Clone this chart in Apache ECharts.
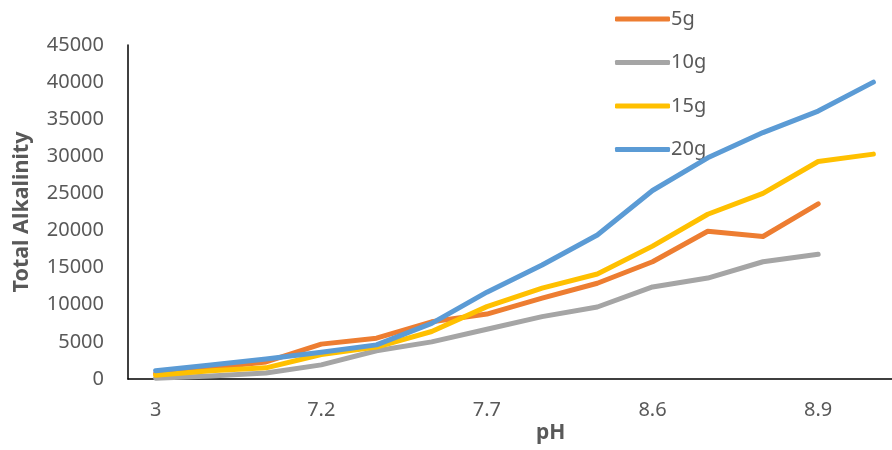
<!DOCTYPE html>
<html>
<head>
<meta charset="utf-8">
<script src="https://cdn.jsdelivr.net/npm/echarts@6/dist/echarts.min.js"></script>
<style>html,body{margin:0;padding:0;background:#fff}#c{width:892px;height:450px}</style>
</head>
<body>
<div id="c"></div>
<script>
const categories = ['3','6.5','7','7.2','7.4','7.5','7.7','8','8.3','8.6','8.7','8.8','8.9','9'];
const s5g  = [700, 1500, 2300, 4700, 5500, 7700, 8750, 10900, 12900, 15800, 19900, 19200, 23600, null];
const s10g = [100, 400, 800, 1900, 3800, 5000, 6700, 8400, 9700, 12400, 13600, 15800, 16800, null];
const s15g = [500, 1100, 1500, 3300, 4300, 6400, 9750, 12250, 14150, 17900, 22200, 25000, 29300, 30300];
const s20g = [1100, 1900, 2700, 3600, 4600, 7500, 11700, 15350, 19400, 25400, 29800, 33200, 36100, 40000];
const yTicks = {min: 0, max: 45000, interval: 5000};
const seriesNames = ['5g', '10g', '15g', '20g'];
const colors = ['#ED7D31', '#A5A5A5', '#FFC000', '#5B9BD5'];

const chart = echarts.init(document.getElementById('c'), null, {renderer: 'canvas'});
const txt = '#595959';
const font = 'Noto Sans';
const datas = [s5g, s10g, s15g, s20g];
chart.setOption({
  animation: false,
  backgroundColor: '#fff',
  grid: {left: 128, width: 773, top: 45, height: 334, containLabel: false, outerBoundsMode: 'none'},
  legend: {
    orient: 'vertical', left: 610, top: 4,
    itemWidth: 55, itemHeight: 5, itemGap: 23.5,
    icon: 'roundRect',
    textStyle: {color: txt, fontSize: 20, fontFamily: font, padding: [0, 0, 0, -4]},
    data: seriesNames
  },
  xAxis: {
    type: 'category', data: categories, boundaryGap: true,
    axisLine: {lineStyle: {color: '#000', width: 1.5}},
    axisTick: {show: false},
    axisLabel: {interval: 2, color: txt, fontSize: 20, fontFamily: font, margin: 21}
  },
  yAxis: {
    type: 'value', min: yTicks.min, max: yTicks.max, interval: yTicks.interval,
    name: 'Total Alkalinity', nameLocation: 'middle', nameGap: 95,
    nameTextStyle: {color: txt, fontSize: 21.5, fontWeight: 'bold', fontFamily: font},
    axisLine: {show: true, lineStyle: {color: '#000', width: 1.5}},
    axisTick: {show: false},
    splitLine: {show: false},
    axisLabel: {color: txt, fontSize: 20, fontFamily: font, margin: 24, formatter: v => String(v)}
  },
  graphic: [{
    type: 'text', left: 536, top: 423,
    style: {text: 'pH', fill: txt, font: 'bold 21px "Noto Sans"'}
  }],
  series: datas.map((d, i) => ({
    name: seriesNames[i], type: 'line', data: d,
    symbol: 'none', smooth: false, connectNulls: false,
    itemStyle: {color: colors[i]},
    lineStyle: {color: colors[i], width: 5, cap: 'round', join: 'round'},
    z: 2 + i
  }))
});
</script>
</body>
</html>
